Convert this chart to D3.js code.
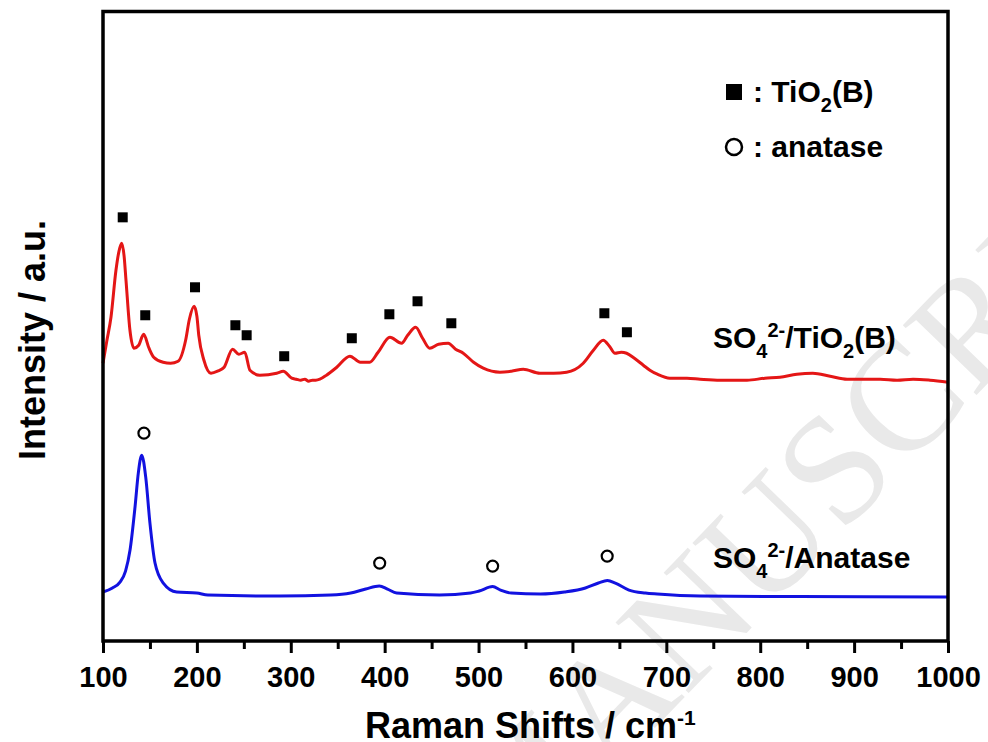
<!DOCTYPE html>
<html>
<head>
<meta charset="utf-8">
<script src="https://cdn.jsdelivr.net/npm/d3@7"></script>
<style>
  body { margin: 0; background: #fff; }
  text { font-family: "Liberation Sans", Arial, sans-serif; font-weight: bold; }
</style>
</head>
<body>
<script>
// Raman spectra: SO4(2-)/TiO2(B) (red) and SO4(2-)/Anatase (blue)

const tioBShift = [100,104,108.5,113.8,117,120,122.5,124.5,128.7,133,138,143.3,149,154,164,172,180,188,192,197,200,202,207.5,215,222,229,238,244.7,251,256.5,267,285,292,301,306,310.6,315,319,323,326.6,331,338,349,363,374,384,393,405.6,418,424.5,433,440.4,448,457.4,467.7,475.5,483.7,494.7,505,522.8,535,547.6,565.4,580,593.8,611.5,622.3,632.8,639.4,645.3,652,657.7,666,675.5,682.5,690.4,703.8,722,736,757.4,786,805,821,839,856,874.5,892.6,911.7,927.7,945.7,962.8,980.9,1000];
const tioBIntensity = [278,300,324,371,390,398,385,361,311,293,296,307,293,284,279,278,280,301,322,335,325,306,281,268,270,274,292,287,289,271,266,268,270,263,262,261,262,260,261,261,262,266,274,285,279,279,289,304,298,306,314,303,293,297,298,292,288,279,273,269,270,272,268,268,269,278,291,301,295,288,289,288,283,276,271,267,263,263,262,261,261,263,264,267,268,265,262,262,262,261,262,261,259];

const anataseShift = [100,110,118.1,124,128.8,134.1,137.6,141.2,145.5,150,155.4,164.2,178.5,199.8,211.7,287.9,342.5,363.8,379.8,394.3,403,412.8,458.5,491.5,500.6,515,523.4,534.8,566,591.5,613.8,627.7,637.2,645.7,660.2,677.7,690.4,736,842.6,1000];
const anataseIntensity = [49,53,59,70,91,134,168,186,164,118,78,58,49,48,46,45,46,48,52,55,52,48,46,48,50,54.5,51,48,47,49,53,58,60.5,58,51,48,47,45,44.5,44];

// peak assignment markers
const tioBMarkShift = [121,145,198,241,253,293,365,405,435,471,634,658];
const tioBMarkLevel = [424,326,354,316,306,285,303,327,340,318,328,309];
const anataseMarkShift = [143.6,394.7,515,637];
const anataseMarkLevel = [208,78,75,85];

const xMajorTicks = [100,200,300,400,500,600,700,800,900,1000];
const xMinorTicks = [150,250,350,450,550,650,750,850,950];

const W = 988, H = 742;
const plotL = 103, plotR = 948, plotT = 11.5, plotB = 641;

const svg = d3.select("body").append("svg")
    .attr("width", W)
    .attr("height", H);

const x = d3.scaleLinear().domain([100, 1000]).range([plotL, plotR]);
const y = d3.scaleLinear().domain([0, 630]).range([plotB, plotT]);

// watermark
const wm = svg.append("g")
    .attr("transform", "translate(512,876) rotate(-46)")
    .attr("fill", "#e9e9e9");
wm.selectAll("text")
    .data([["end", "ACCEPTED "], ["start", "MANUSCRIPT"]])
    .enter()
    .append("text")
    .attr("text-anchor", d => d[0])
    .style("font-family", "'Liberation Serif', 'Times New Roman', serif")
    .style("font-weight", "normal")
    .style("font-size", "155px")
    .text(d => d[1]);

const line = d3.line()
    .x(d => x(d[0]))
    .y(d => y(d[1]))
    .curve(d3.curveMonotoneX);

svg.append("path")
    .datum(d3.zip(tioBShift, tioBIntensity))
    .attr("fill", "none")
    .attr("stroke", "#e41616")
    .attr("stroke-width", 3)
    .attr("stroke-linejoin", "round")
    .attr("d", line);

svg.append("path")
    .datum(d3.zip(anataseShift, anataseIntensity))
    .attr("fill", "none")
    .attr("stroke", "#1212e0")
    .attr("stroke-width", 3)
    .attr("stroke-linejoin", "round")
    .attr("d", line);

// markers
svg.selectAll("rect.mk")
    .data(d3.zip(tioBMarkShift, tioBMarkLevel))
    .enter()
    .append("rect")
    .attr("class", "mk")
    .attr("x", d => x(d[0]) - 5)
    .attr("y", d => y(d[1]) - 5)
    .attr("width", 10)
    .attr("height", 10)
    .attr("fill", "#000");

svg.selectAll("circle.mk")
    .data(d3.zip(anataseMarkShift, anataseMarkLevel))
    .enter()
    .append("circle")
    .attr("class", "mk")
    .attr("cx", d => x(d[0]))
    .attr("cy", d => y(d[1]))
    .attr("r", 5.5)
    .attr("fill", "#fff")
    .attr("stroke", "#000")
    .attr("stroke-width", 2.2);

// frame
svg.append("rect")
    .attr("x", plotL)
    .attr("y", plotT)
    .attr("width", plotR - plotL)
    .attr("height", plotB - plotT)
    .attr("fill", "none")
    .attr("stroke", "#000")
    .attr("stroke-width", 3.5);

// bottom axis
const gx = svg.append("g")
    .attr("transform", `translate(0,${plotB})`)
    .call(d3.axisBottom(x).tickValues(xMajorTicks).tickSize(12).tickFormat(d3.format("d")));
gx.select(".domain").remove();
gx.selectAll(".tick line").attr("stroke-width", 3);
gx.selectAll(".tick text")
    .attr("y", 46)
    .attr("dy", 0)
    .attr("fill", "#000")
    .style("font-size", "29px")
    .style("font-family", "'Liberation Sans', Arial, sans-serif")
    .style("font-weight", "bold");

const gxm = svg.append("g")
    .attr("transform", `translate(0,${plotB})`)
    .call(d3.axisBottom(x).tickValues(xMinorTicks).tickSize(8).tickFormat(""));
gxm.select(".domain").remove();
gxm.selectAll(".tick line").attr("stroke-width", 3);

// axis titles
const xt = svg.append("text")
    .attr("x", 365)
    .attr("y", 738)
    .style("font-size", "36px")
    .text("Raman Shifts / cm");
xt.append("tspan").attr("dy", -13).style("font-size", "21px").text("-1");

svg.append("text")
    .attr("transform", "translate(45,340) rotate(-90)")
    .attr("text-anchor", "middle")
    .style("font-size", "36px")
    .text("Intensity / a.u.");

// series labels
function soLabel(xp, yp, rest, restSub, restEnd) {
  const t = svg.append("text").attr("x", xp).attr("y", yp).style("font-size", "30px");
  t.append("tspan").text("SO");
  t.append("tspan").attr("dy", 10).style("font-size", "20px").text("4");
  t.append("tspan").attr("dy", -21).style("font-size", "20px").text("2-");
  t.append("tspan").attr("dy", 11).text(rest);
  if (restSub) {
    t.append("tspan").attr("dy", 10).style("font-size", "20px").text(restSub);
    t.append("tspan").attr("dy", -10).text(restEnd);
  }
}
soLabel(713, 348, "/TiO", "2", "(B)");
soLabel(713, 568, "/Anatase");

// legend
svg.append("rect")
    .attr("x", 726).attr("y", 84)
    .attr("width", 16).attr("height", 16)
    .attr("fill", "#000");
const l1 = svg.append("text").attr("x", 753).attr("y", 102).style("font-size", "30px");
l1.append("tspan").text(": TiO");
l1.append("tspan").attr("dy", 10).style("font-size", "20px").text("2");
l1.append("tspan").attr("dy", -10).text("(B)");

svg.append("circle")
    .attr("cx", 734).attr("cy", 147)
    .attr("r", 8)
    .attr("fill", "#fff")
    .attr("stroke", "#000")
    .attr("stroke-width", 2.5);
svg.append("text").attr("x", 753).attr("y", 157).style("font-size", "30px").text(": anatase");
</script>
</body>
</html>
